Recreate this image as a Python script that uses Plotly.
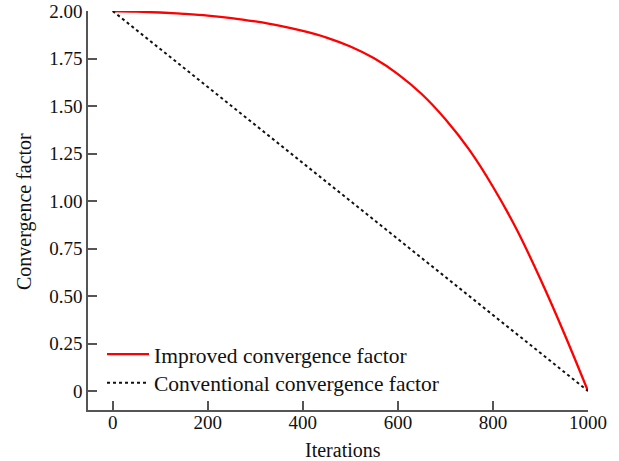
import plotly.graph_objects as go

iterations = [0, 50, 100, 150, 200, 250, 300, 350, 400, 450, 500, 550, 600, 650,
              700, 750, 800, 850, 900, 950, 1000]
improved = [2.000, 1.997, 1.992, 1.985, 1.976, 1.963, 1.945, 1.923, 1.895, 1.860,
            1.813, 1.751, 1.668, 1.563, 1.430, 1.270, 1.075, 0.850, 0.588, 0.303, 0.0]
conv_x = [0, 1000]
conventional = [2.0, 0.0]

x_ticks = [0, 200, 400, 600, 800, 1000]
y_ticks = [0, 0.25, 0.5, 0.75, 1.0, 1.25, 1.5, 1.75, 2.0]
y_labels = ["0", "0.25", "0.50", "0.75", "1.00", "1.25", "1.50", "1.75", "2.00"]

x_title = "Iterations"
y_title = "Convergence factor"

font_family = "Liberation Serif"
txt = "#111111"

fig = go.Figure()
fig.add_trace(go.Scatter(x=iterations, y=improved, mode="lines", line_shape="spline",
                         line=dict(color="#ff0000", width=2.3),
                         name="Improved convergence factor", legend="legend"))
fig.add_trace(go.Scatter(x=conv_x, y=conventional, mode="lines",
                         line=dict(color="#111111", width=2, dash="dot"),
                         name="Conventional convergence factor", legend="legend2"))

legend_common = dict(font=dict(family=font_family, size=21.5, color=txt),
                     bgcolor="rgba(0,0,0,0)", xanchor="left", yanchor="middle",
                     itemwidth=42)
fig.update_layout(
    width=619, height=461,
    margin=dict(l=88, r=31, t=11, b=51, autoexpand=False),
    paper_bgcolor="white", plot_bgcolor="white",
    showlegend=True,
    font=dict(family=font_family, size=19, color=txt),
    legend=dict(x=0.028, y=0.14, **legend_common),
    legend2=dict(x=0.028, y=0.068, **legend_common),
    xaxis=dict(range=[-52, 1000], tickvals=x_ticks, ticktext=[str(v) for v in x_ticks],
               showgrid=False, zeroline=False, showline=True, linecolor="#555", linewidth=1.5,
               ticks="inside", ticklen=9, tickcolor="#555", tickwidth=1.5, automargin=False,
               ticklabelstandoff=-6,
               tickfont=dict(family=font_family, size=19, color=txt)),
    yaxis=dict(range=[-0.1, 2.0], tickvals=y_ticks, ticktext=y_labels,
               showgrid=False, zeroline=False, showline=True, linecolor="#555", linewidth=1.5,
               ticks="inside", ticklen=9, tickcolor="#555", tickwidth=1.5, automargin=False,
               tickfont=dict(family=font_family, size=19, color=txt)),
    annotations=[
        dict(text=x_title, xref="paper", yref="paper", x=(343 - 88) / 500, y=-(450 - 410) / 399,
             xanchor="center", yanchor="middle", showarrow=False,
             font=dict(family=font_family, size=20, color=txt)),
        dict(text=y_title, xref="paper", yref="paper", x=-(88 - 24) / 500, y=(410 - 212) / 399,
             xanchor="center", yanchor="middle", showarrow=False, textangle=-90,
             font=dict(family=font_family, size=20, color=txt)),
    ],
)
fig.write_html("out.html")
